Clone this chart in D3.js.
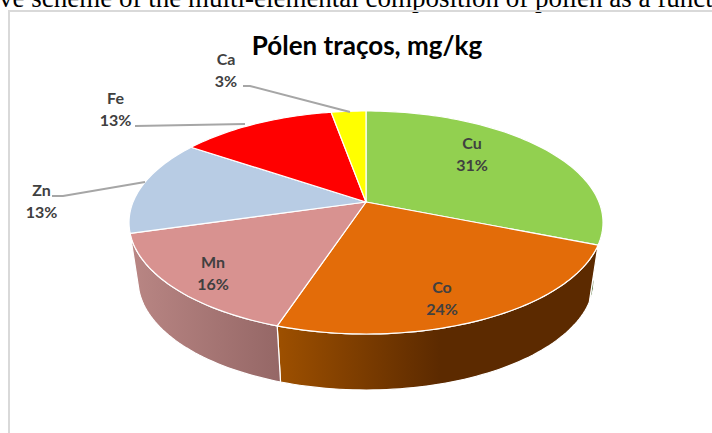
<!DOCTYPE html>
<html><head><meta charset="utf-8">
<script src="https://cdn.jsdelivr.net/npm/d3@7"></script>
<style>html,body{margin:0;padding:0;background:#fff;overflow:hidden}svg{display:block}</style>
</head><body><svg id="c" width="712" height="433"></svg>
<script>
const categories = ["Cu","Co","Mn","Zn","Fe","Ca"];
const values = [30.8,23.8,15.3,13.8,12.6,2.8];
const percentLabels = ["31%","24%","16%","13%","13%","3%"];
const chartTitle = "Pólen traços, mg/kg";
const caption = "ve scheme of the multi-elemental composition of pollen as a function";

const topColors = ["#92d050","#e36c09","#d89290","#b8cce4","#ff0000","#ffff00"];
const wallStops = [["#3f5f22","#3f5f22"],["#9c4f00","#5c2a00"],["#b98684","#956766"]];
const wallGradientX = [[560,600],[281,440],[131,280]];
const labelPos = [[472,143.5],[442,287.5],[213,262.5],[41.5,190.5],[115.5,98.5],[226,59.5]];
const leaders = [null,null,null,[[52,196],[63,196],[145,182]],[[135,126],[245,124]],[[243,86],[250,86],[350,112]]];

const svg = d3.select("#c");
const top_ = {cx:366,cy:222.5,rx:237,ry:111.5}, bot = {cx:366,cy:280,rx:228,ry:110};
const v0 = (202-top_.cy)/top_.ry, k = Math.sqrt(1-v0*v0);
// perspective map of the pie's circle on the ellipse, centre falling at the apex
const norm = t => { const a=Math.sin(t), b=-Math.cos(t), d=1+v0*b; return [a*k/d,(b+v0)/d]; };
const onE = (e,t) => { const [u,v]=norm(t); return [e.cx+u*e.rx,e.cy+v*e.ry]; };
const apex = [top_.cx, top_.cy+v0*top_.ry];

const arcs = d3.pie().sort(null).value(d=>d).startAngle(0).endAngle(2*Math.PI)(values);
const samples = a => { const n=Math.max(8,Math.ceil((a.endAngle-a.startAngle)*40)); return d3.range(n+1).map(i=>a.startAngle+(a.endAngle-a.startAngle)*i/n); };
const line = d3.line();

// page frame & caption
svg.append("text").attr("x",-1).attr("y",7).attr("font-family","Liberation Serif").attr("font-size",27).attr("fill","#000").text(caption);
svg.append("path").attr("d","M9,433V11H712").attr("fill","none").attr("stroke","#d9d9d9").attr("stroke-width",2);

const defs = svg.append("defs");
wallStops.forEach((s,i)=>{
  const g=defs.append("linearGradient").attr("id","w"+i).attr("gradientUnits","userSpaceOnUse")
    .attr("x1",wallGradientX[i][0]).attr("x2",wallGradientX[i][1]).attr("y1",0).attr("y2",0);
  g.append("stop").attr("offset",0).attr("stop-color",s[0]);
  g.append("stop").attr("offset",1).attr("stop-color",s[1]);
});

// walls (only the front-facing slices show one)
svg.append("g").selectAll("path").data(arcs.slice(0,wallStops.length)).join("path")
  .attr("d",a=>{const ts=samples(a);return line(ts.map(t=>onE(top_,t)).concat(ts.slice().reverse().map(t=>onE(bot,t))))+"Z";})
  .attr("fill",(a,i)=>`url(#w${i})`).attr("stroke","#fff").attr("stroke-width",1.2).attr("stroke-linejoin","round");

// top faces
svg.append("g").selectAll("path").data(arcs).join("path")
  .attr("d",a=>line([apex].concat(samples(a).map(t=>onE(top_,t))))+"Z")
  .attr("fill",(a,i)=>topColors[i]).attr("stroke","#fff").attr("stroke-width",1.2).attr("stroke-linejoin","round");

// leaders
svg.append("g").selectAll("path").data(leaders.filter(Boolean)).join("path")
  .attr("d",line).attr("fill","none").attr("stroke","#a6a6a6").attr("stroke-width",2);

// labels
const lab = svg.append("g").attr("font-family","Lato").attr("font-weight",700).attr("font-size",16).attr("fill","#404040").attr("text-anchor","middle");
categories.forEach((c,i)=>{
  lab.append("text").attr("x",labelPos[i][0]).attr("y",labelPos[i][1]+5.5).text(c);
  lab.append("text").attr("x",labelPos[i][0]).attr("y",labelPos[i][1]+27.5).text(percentLabels[i]);
});
svg.append("text").attr("x",367).attr("y",55).attr("text-anchor","middle").attr("font-family","Lato").attr("font-weight",700).attr("font-size",26).attr("fill","#000").text(chartTitle);
</script></body></html>
